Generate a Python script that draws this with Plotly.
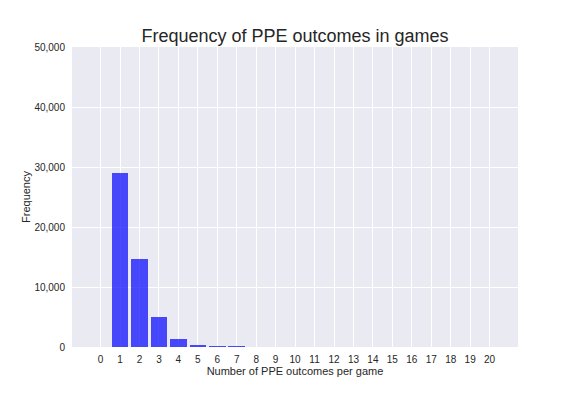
import plotly.graph_objects as go

outcomes = list(range(0, 21))
frequency = [0, 29050, 14650, 5000, 1300, 300, 130, 120, 0, 0, 0,
             0, 0, 0, 0, 0, 0, 0, 0, 0, 0]
y_ticks = [0, 10000, 20000, 30000, 40000, 50000]
y_tick_labels = ["0", "10,000", "20,000", "30,000", "40,000", "50,000"]

fig = go.Figure()
fig.add_trace(go.Bar(
    x=outcomes, y=frequency, width=0.85,
    marker=dict(color="rgba(0,0,255,0.7)", line=dict(width=0)),
))

fig.update_layout(
    width=576, height=396,
    margin=dict(l=64, r=66, t=39, b=57),
    paper_bgcolor="white", plot_bgcolor="#EAEAF2",
    font=dict(family="Liberation Sans, Arial, sans-serif", size=10, color="#262626"),
    title=dict(text="Frequency of PPE outcomes in games", xref="paper", x=0.5, xanchor="center",
               yref="container", y=0.93, yanchor="middle", font=dict(size=18, color="#262626")),
    showlegend=False,
    bargap=0,
)
fig.update_xaxes(
    range=[-1.47, 21.46], tickmode="array", tickvals=outcomes,
    ticktext=[str(v) for v in outcomes],
    showgrid=True, gridcolor="white", gridwidth=1, zeroline=False,
    ticks="outside", ticklen=3, tickcolor="rgba(0,0,0,0)",
    title=dict(text="Number of PPE outcomes per game", font=dict(size=11), standoff=2),
)
fig.update_yaxes(
    range=[0, 50000], tickmode="array", tickvals=y_ticks, ticktext=y_tick_labels,
    showgrid=True, gridcolor="white", gridwidth=1, zeroline=False,
    ticks="outside", ticklen=4, tickcolor="rgba(0,0,0,0)",
    title=dict(text="Frequency", font=dict(size=11), standoff=1),
)

fig.write_html("out.html")
